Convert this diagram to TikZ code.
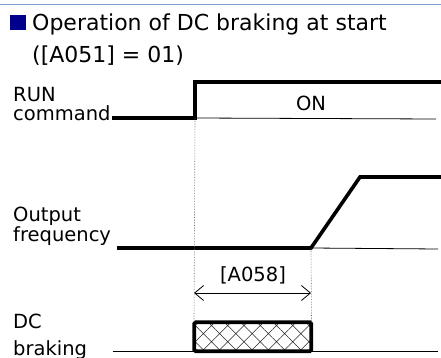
\documentclass[tikz,border=0pt]{standalone}
\usepackage{fontspec}
\setmainfont{DejaVu Sans}
\usetikzlibrary{arrows.meta, positioning, patterns.meta}
\definecolor{marknavy}{RGB}{0,0,140}
\definecolor{ruleblue}{RGB}{125,155,205}

\begin{document}
\begin{tikzpicture}[
      x=1pt, y=-1pt,
      txt/.style={anchor=base west, inner sep=0pt,
          font=\fontsize{19.5}{24}\selectfont},
      head/.style={anchor=base west, inner sep=0pt,
          font=\fontsize{22}{32}\selectfont},
      signal/.style={line width=3.6pt},
      base/.style={line width=0.8pt},
      guide/.style={densely dotted, line width=0.6pt, black!60},
      span/.style={{Straight Barb[length=9pt,width=15pt]}-{Straight Barb[length=9pt,width=15pt]},
          line width=0.8pt},
      brake/.style={line width=3.6pt, rounded corners=1.5pt,
          pattern={Hatch[angle=45,distance=11.5pt,line width=0.5pt]},
          pattern color=black!85}
  ]
  \useasboundingbox (0,0) rectangle (441,358);

  % ══════════════════════════════
  % TITRE
  % ══════════════════════════════
  \draw[ruleblue, line width=1pt] (0,4.5) -- (441,4.5);

  \fill[marknavy] (10,15) rectangle (26,30);
  \node[head] (title) at (32,31) {Operation of DC braking at start};
  \node[head] (setting) at (32,63) {([A051] = 01)};

  % ══════════════════════════════
  % NOMS DES SIGNAUX
  % ══════════════════════════════
  \node[txt] (run) at (13,102) {RUN};
  \node[txt] (cmd) at (13,121) {command};
  \node[txt] (out) at (13,221) {Output};
  \node[txt] (freq) at (13,241) {frequency};
  \node[txt] (dc) at (13,328) {DC};
  \node[txt] (braking) at (13,355) {braking};

  % ══════════════════════════════
  % POINTS DU CHRONOGRAMME
  % ══════════════════════════════
  \coordinate (runlow)  at (112,118);
  \coordinate (runedge) at (195,118);
  \coordinate (runhigh) at (195,82);
  \coordinate (runend)  at (441,82);
  \coordinate (runbase) at (436,119);

  \coordinate (freqlow)  at (117,248);
  \coordinate (freqrise) at (311,248);
  \coordinate (freqtop)  at (360,177);
  \coordinate (freqend)  at (441,177);
  \coordinate (freqbase) at (438,249);

  \coordinate (dclow) at (113,351);
  \coordinate (dcend) at (438,351);

  % ══════════════════════════════
  % RUN command
  % ══════════════════════════════
  \draw[signal] (runlow) -- (runedge) -- (runhigh) -- (runend);
  \draw[base] (runedge) -- (runbase);
  \node[txt, anchor=base] (on) at (311,111) {ON};

  % ══════════════════════════════
  % Output frequency
  % ══════════════════════════════
  \draw[signal] (freqlow) -- (freqrise) -- (freqtop) -- (freqend);
  \draw[base] (freqrise) -- (freqbase);

  % ══════════════════════════════
  % DC braking
  % ══════════════════════════════
  \draw[base] (dclow) -- (dcend);
  \node[brake, draw, minimum width=117pt, minimum height=29pt,
        inner sep=0pt, anchor=north west] (dcbox) at (194,322) {};

  % ══════════════════════════════
  % REPÈRES ET DURÉE
  % ══════════════════════════════
  \draw[guide] (runedge) -- (dcbox.north west);
  \draw[guide] (freqrise) -- (dcbox.north east);

  \coordinate (spanl) at (194,293);
  \coordinate (spanr) at (311,293);
  \draw[span] (spanl) -- (spanr);
  \node[txt, anchor=base] (time) at (253,281) {[A058]};

  \end{tikzpicture}
\end{document}
